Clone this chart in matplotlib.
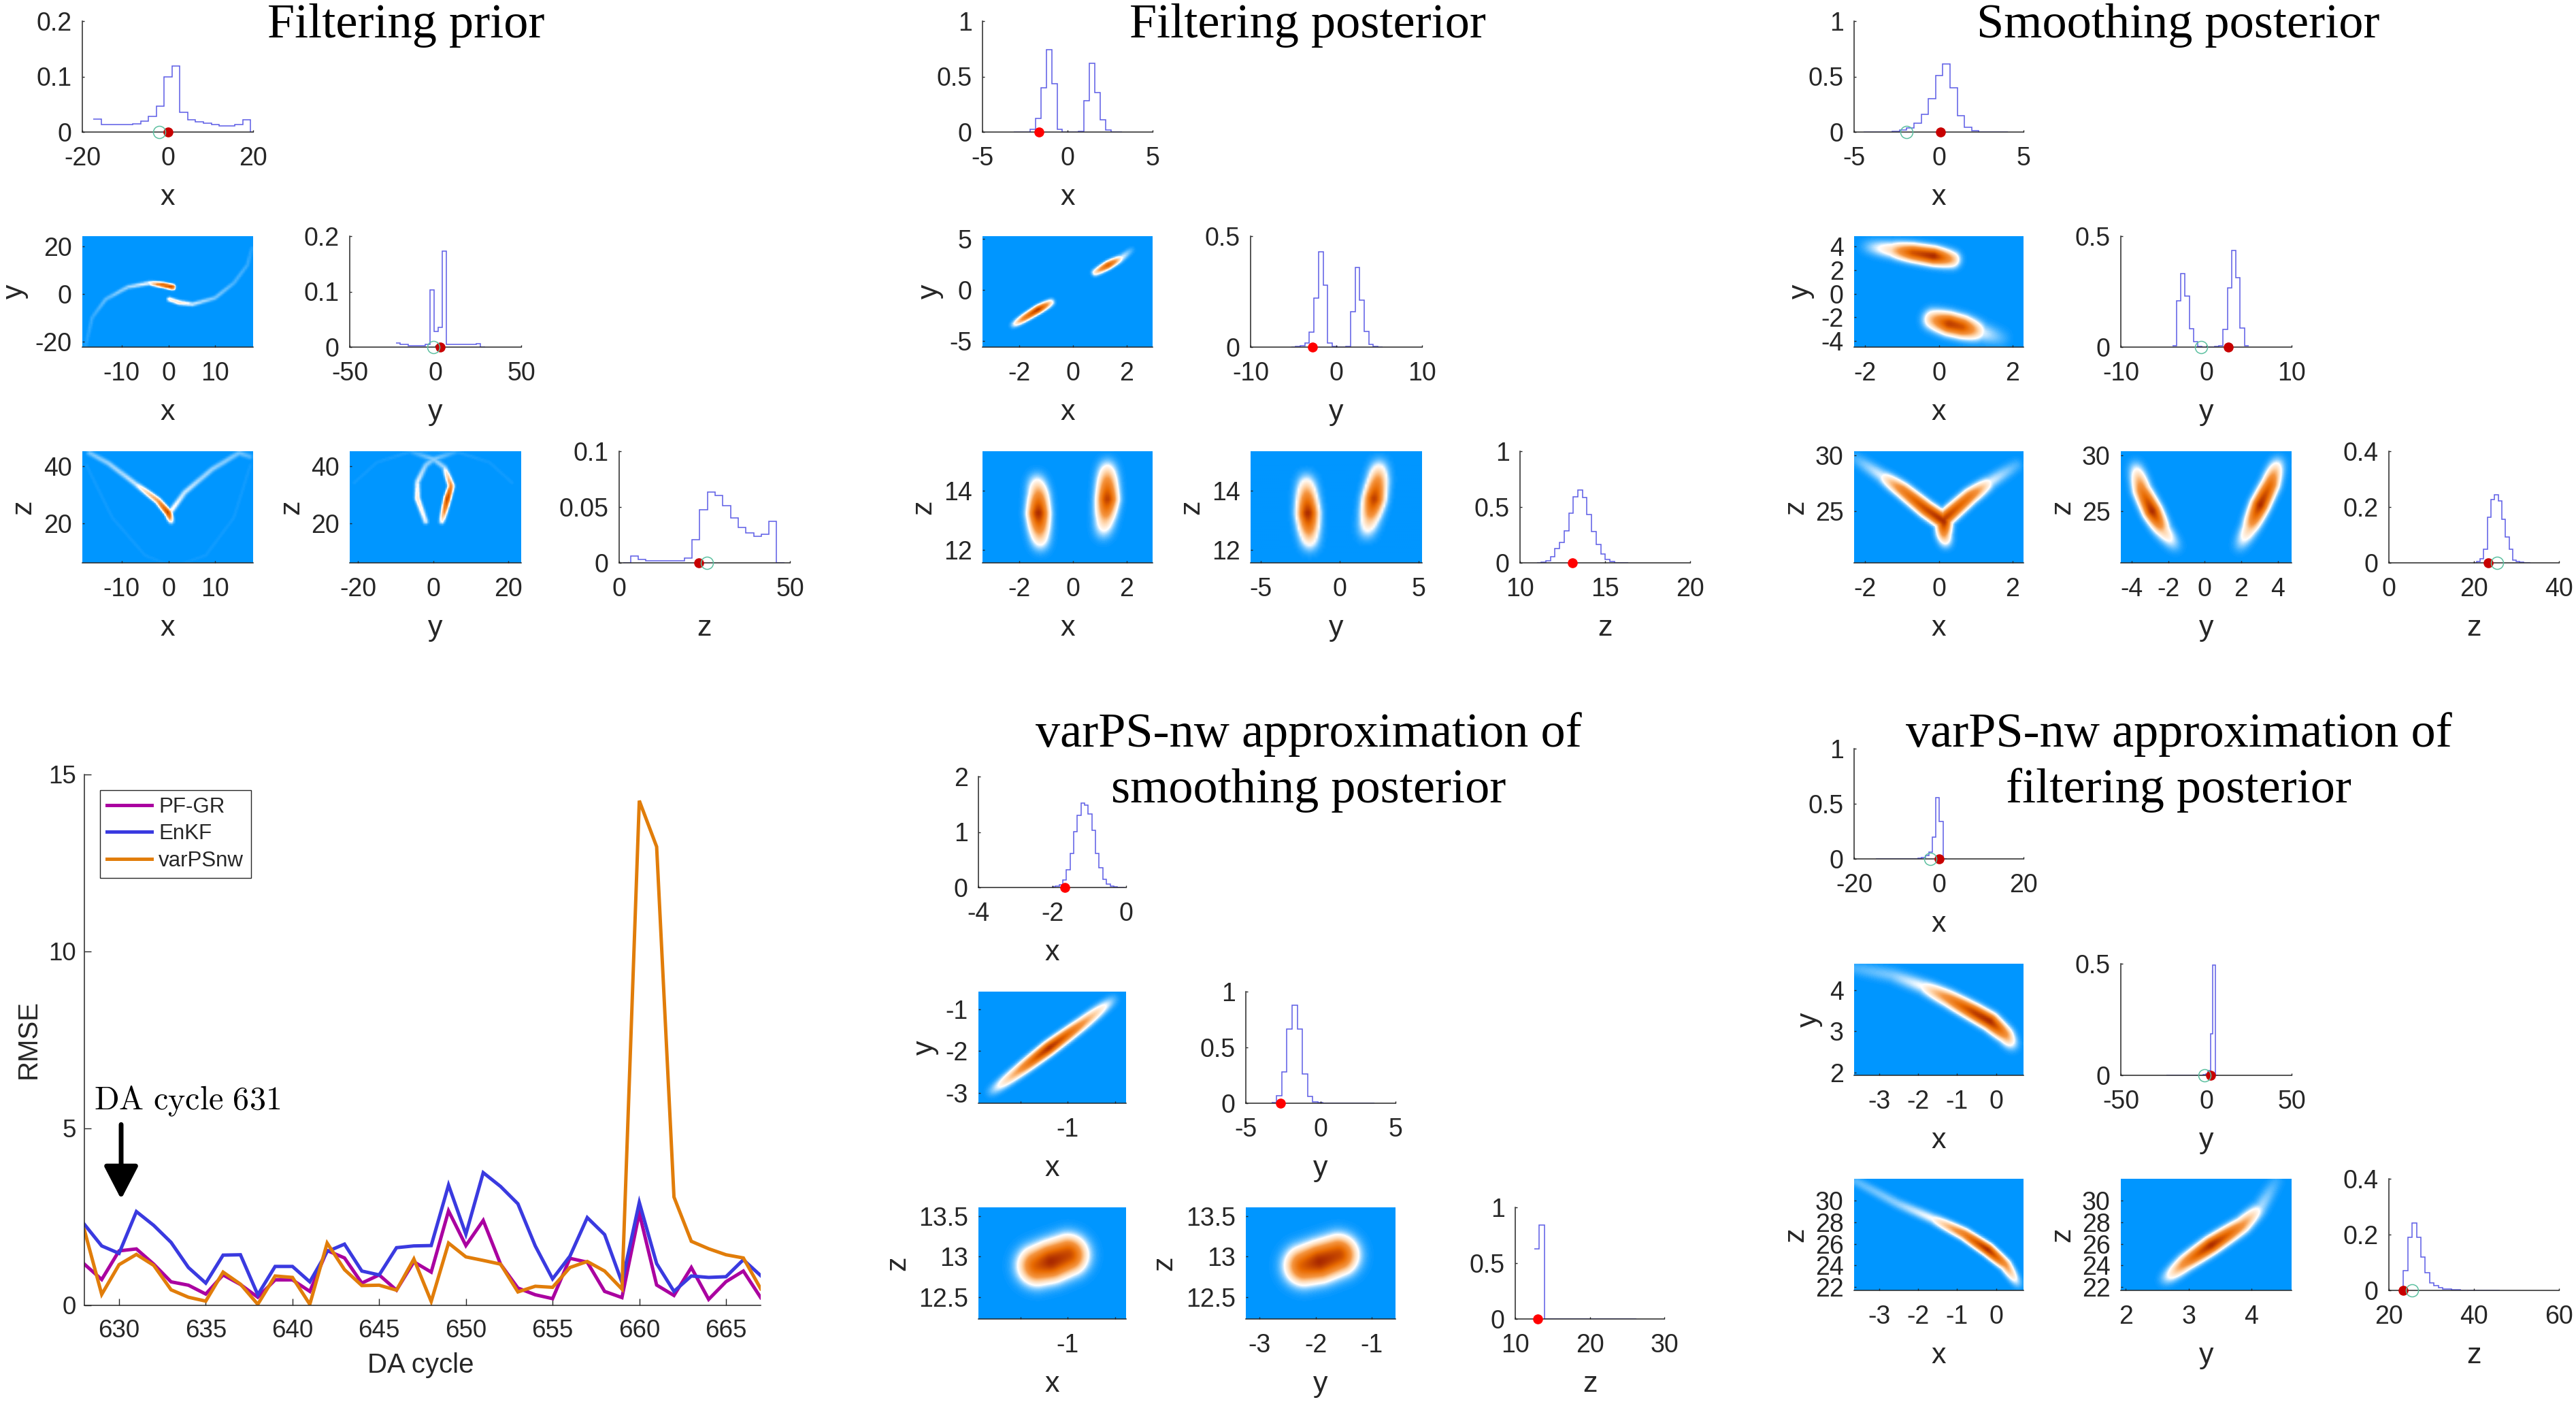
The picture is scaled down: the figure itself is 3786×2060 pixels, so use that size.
import numpy as np
import matplotlib
matplotlib.use("Agg")
import matplotlib.pyplot as plt
from matplotlib.colors import LinearSegmentedColormap

# ---------- RMSE series ----------
cycles = list(range(628, 668))
pf_gr = [1.155,.72,1.53,1.585,1.155,.655,.56,.31,.85,.58,.22,.71,.71,.385,1.54,1.33,.62,.85,.42,1.22,.93,2.66,1.68,2.39,1.155,.48,.29,.18,1.32,1.21,.385,.21,2.6,.565,.27,1.06,.16,.66,.96,.21]
enkf = [2.28,1.67,1.46,2.64,2.25,1.77,1.06,.62,1.41,1.42,.29,1.09,1.09,.655,1.51,1.72,.96,.85,1.62,1.67,1.68,3.39,2.0,3.74,3.35,2.86,1.67,.74,1.38,2.47,1.99,.64,2.9,1.17,.385,.82,.78,.8,1.28,.83]
varpsnw = [2.12,.3,1.14,1.43,1.12,.43,.22,.11,.93,.59,.02,.82,.78,.02,1.75,1.0,.55,.56,.42,1.3,.1,1.75,1.36,1.26,1.155,.37,.53,.5,1.06,1.23,.96,.45,14.25,12.95,3.05,1.8,1.59,1.42,1.33,.46]
rmse_labels = ["PF-GR", "EnKF", "varPSnw"]

# ---------- histograms: first edge, bin width, heights ----------
prior_hx = (-17.4, 1.84, [.023,.013,.013,.013,.014,.015,.02,.028,.047,.1,.119,.036,.022,.018,.016,.0135,.011,.011,.0135,.022,0])
prior_hy = (-23.1, 2.47, [.0075,.0045,.0045,.003,.003,.003,.003,.005,.103,.028,.036,.173,.005,.005,.005,.005,.005,.005,.005,.0065,0])
prior_hz = (1.1, 2.25, [0,.006,.003,.002,.002,.002,.002,.002,.0045,.021,.0475,.0635,.0605,.051,.04,.032,.027,.024,.0255,.037,0])
filt_hx = (-3.15, .3165, [.001,.002,.003,.026,.123,.4,.74,.437,.022,.002,.001,.001,.008,.28,.62,.355,.112,.019,.002,.001])
filt_hy = (-5.27, .533, [.001,.002,.0075,.0185,.0685,.22,.43,.28,.0185,.002,.001,.001,.002,.16,.36,.213,.07,.013,.003,.001])
filt_hz = (10.98, .269, [.003,.008,.019,.056,.13,.18,.286,.446,.59,.65,.584,.435,.28,.167,.08,.03,.01,.003,.002,.001])
smooth_hx = (-4.45, .426, [.001,.001,.001,.001,.008,.019,.034,.082,.16,.3,.51,.615,.4,.15,.045,.015,.003,.001,.001,.001])
smooth_hy = (-3.98, .497, [.007,.21,.33,.23,.083,.026,.004,.001,.001,.001,.002,.006,.08,.267,.435,.313,.087,.007])
smooth_hz = (19.76, .848, [.001,.004,.015,.048,.164,.226,.245,.223,.156,.092,.048,.01,.004,.002,.001,.001])
vs_hx = (-2.01, .0986, [.01,.024,.055,.134,.316,.61,1.01,1.304,1.525,1.486,1.328,1.03,.61,.356,.15,.063,.024,.008,.003,.001])
vs_hy = (-3.28, .343, [.005,.07,.28,.665,.88,.665,.26,.063,.015,.008,.002,.001,.001,.001,.001,.001,.001,.001,.001,.001])
vs_hz = (12.53, .688, [.627,.843,.001,.001,.001,.001,.001,.001,.001,.001,.001,.001,.001,.001,.001,.001,.001,.001,.001,.001])
vf_hx = (-14.9, .836, [.001,.001,.001,.001,.001,.001,.001,.001,.001,.001,.001,.001,.004,.012,.028,.06,.2,.555,.34,.001])
vf_hy = (-23.5, 1.446, [.001,.001,.001,.001,.001,.001,.001,.001,.001,.001,.001,.001,.001,.001,.001,.002,.005,.02,.185,.494,0])
vf_hz = (22.36, 1.03, [0,.071,.19,.242,.19,.12,.063,.027,.016,.0095,.006,.005,.003,.002,.001,.001,.001,.001,.001,.001,.001,.001,.001])

# ---------- density ridges: (xs, ys, relative density) ----------
prior_xy = [([-17.7,-16.3,-13.4,-8.7,-4.1,-1.2,.9],[-22,-9.9,-2.2,2.9,4.6,3.8,2.9],[.02,.035,.06,.1,.16,.8,.95]),
            ([.2,2.3,5.2,9.9,14,16.9,17.8],[-2.2,-3.6,-4.3,-1.7,4.6,12.3,19.2],[.22,.25,.13,.08,.05,.035,.02])]
prior_xz = [([-16.9,-12.8,-7,-2.3,0,.6],[44.3,40.7,33.6,27.9,23.6,20.7],[.07,.09,.12,.45,.95,.14]),
            ([.6,3.5,9.3,15.1,17.4],[24.3,30.7,38.6,44.3,43],[.17,.12,.09,.07,.05]),
            ([-17.5,-12,-5,1,8,14,17.5],[40,22,9,5,9,22,40],[.012,.012,.012,.008,.012,.012,.012])]
prior_yz = [([-2,-4.2,-4.2,-2,.1,5.9],[20.7,28.6,34.3,40,42.1,44.6],[.14,.22,.14,.09,.08,.03]),
            ([2.3,3.8,4.8,3,.1,-5.6],[20.7,28.6,32.9,39.3,42.1,44.6],[.16,.95,.5,.1,.08,.03]),
            ([-21,-15,-6,6,15,21],[34,41,44.8,44.8,41,34],[.012,.012,.02,.02,.012,.012])]
filt_xy = [([-2.26,-1.78,-1.29,-.81],[-3.5,-2.7,-1.9,-1.2],[.03,.6,1,.2]),
           ([.83,1.31,1.8,2.18],[1.73,2.46,3.15,3.95],[.22,.8,.15,.03])]
filt_xz = [([-1.35,-1.28,-1.28,-1.24,-1.2],[14.42,13.86,13.23,12.6,12.11],[.04,.45,1,.4,.04]),
           ([1.28,1.28,1.28,1.2,1.12],[14.9,14.35,13.72,13.09,12.53],[.04,.45,.9,.35,.04])]
filt_yz = [([-2.12,-2.08,-2.02,-1.95,-1.89],[14.42,13.86,13.23,12.6,12.11],[.04,.45,1,.4,.04]),
           ([2.52,2.42,2.19,1.92,1.69],[14.9,14.35,13.72,13.09,12.53],[.04,.45,.9,.35,.04])]
smooth_xy = [([-1.95,-1.25,-.7,-.14,.35],[3.98,3.7,3.46,3.18,2.9],[.04,.25,.8,1,.35]),
             ([-.14,.28,.63,1.11,1.67],[-2.18,-2.53,-2.8,-3.22,-3.74],[.35,.9,.8,.14,.04])]
smooth_xz = [([-2.23,-1.53,-.98,-.35,.14,.14,.2],[29.6,28.1,26.84,25.18,24.08,22.98,22.06],[.04,.13,.55,.85,1,.45,.04]),
             ([.14,.84,1.39,2.09],[24.26,26.29,27.57,29.04],[.9,.6,.13,.04])]
smooth_yz = [([-3.8,-3.44,-2.87,-2.31,-1.6],[29.04,26.84,25,23.35,21.88],[.04,.55,1,.3,.04]),
             ([4.03,3.61,3.04,2.48,1.92],[29.41,27.39,25.55,23.53,21.88],[.04,.65,1,.3,.04])]
vs_xy = [([-1.81,-1.53,-1.2,-.85,-.52],[-2.98,-2.5,-1.93,-1.35,-.77],[.04,.4,1,.45,.04])]
vs_xz = [([-1.32,-1.18,-1.0],[12.89,12.94,13.02],[.75,1,.85])]
vs_yz = [([-2.2,-1.93,-1.6],[12.89,12.94,13.02],[.75,1,.85])]
vf_xy = [([-3.58,-2.66,-1.87,-1.21,-.55,-.16,.24,.43],[4.52,4.36,4.09,3.79,3.45,3.24,2.91,2.65],[.04,.07,.15,.5,.9,1,.45,.04])]
vf_xz = [([-3.58,-2.53,-1.61,-.82,-.22,.24,.57],[31.74,29.72,28.3,26.9,25.47,24.06,22.24],[.05,.08,.15,.55,1,.45,.04])]
vf_yz = [([2.62,2.95,3.36,3.85,4.14,4.39],[22.65,24.26,25.88,27.7,29.31,31.74],[.04,.5,1,.45,.1,.03])]

# ---------- truth (filled dot) and reference (open circle) values ----------
prior_truth, prior_ref = [.1, 2.85, 23.3], [-2.05, -1.0, 25.7]
filt_truth, filt_ref = [-1.69, -2.8, 13.09], None
smooth_truth, smooth_ref = [.1, 2.6, 23.3], [-1.9, -.6, 25.5]
vs_truth, vs_ref = [-1.66, -2.7, 13.0], None
vf_truth, vf_ref = [.05, 2.6, 23.3], [-2.0, -.8, 25.5]

# ---------- axis limits and ticks ----------
prior_lims = dict(hx=(-20,20), hy=(-50,50), hz=(0,50), ix=(-18.4,18.1), iy=(-22.3,24.3), iyx=(-22.2,23.4), iz=(6.4,45.1))
prior_ticks = dict(hx=[-20,0,20], hy=[-50,0,50], hz=[0,50], ix=[-10,0,10], iy=[-20,0,20], iyx=[-20,0,20], iz=[20,40],
                   yhx=[0,.1,.2], yhy=[0,.1,.2], yhz=[0,.05,.1])
filt_lims = dict(hx=(-5,5), hy=(-10,10), hz=(10,20), ix=(-3.36,2.96), iy=(-5.6,5.3), iyx=(-5.66,5.23), iz=(11.55,15.34))
filt_ticks = dict(hx=[-5,0,5], hy=[-10,0,10], hz=[10,15,20], ix=[-2,0,2], iy=[-5,0,5], iyx=[-5,0,5], iz=[12,14],
                  yhx=[0,.5,1], yhy=[0,.5], yhz=[0,.5,1])
smooth_lims = dict(hx=(-5,5), hy=(-10,10), hz=(0,40), ix=(-2.3,2.3), iy=(-4.5,4.86), iyx=(-4.59,4.76), iz=(20.4,30.37))
smooth_ticks = dict(hx=[-5,0,5], hy=[-10,0,10], hz=[0,20,40], ix=[-2,0,2], iy=[-4,-2,0,2,4], iyx=[-4,-2,0,2,4], iz=[25,30],
                    yhx=[0,.5,1], yhy=[0,.5], yhz=[0,.2,.4])
vs_lims = dict(hx=(-4,0), hy=(-5,5), hz=(10,30), ix=(-1.945,-.385), iy=(-3.25,-.58), iyx=(-3.24,-.58), iz=(12.23,13.61))
vs_ticks = dict(hx=[-4,-2,0], hy=[-5,0,5], hz=[10,20,30], ix=[-1.5,-1,-.5], iy=[-3,-2,-1], iyx=[-3,-2,-1], iz=[12.5,13,13.5],
                yhx=[0,1,2], yhy=[0,.5,1], yhz=[0,.5,1], hide=[-1.5,-.5])
vf_lims = dict(hx=(-20,20), hy=(-50,50), hz=(20,60), ix=(-3.64,.70), iy=(1.93,4.64), iyx=(1.92,4.64), iz=(21.7,32.0))
vf_ticks = dict(hx=[-20,0,20], hy=[-50,0,50], hz=[20,40,60], ix=[-3,-2,-1,0], iy=[2,3,4], iyx=[2,3,4], iz=[22,24,26,28,30],
                yhx=[0,.5,1], yhy=[0,.5], yhz=[0,.2,.4])
prior_yl = dict(hist=[.2,.2,.1])
filt_yl = dict(hist=[1,.5,1])
smooth_yl = dict(hist=[1,.5,.4])
vs_yl = dict(hist=[2,1,1])
vf_yl = dict(hist=[1,.5,.4])

# ---------- layout (pixels) ----------
W, H = 3786, 2060
plt.rcParams['font.family'] = ['Liberation Sans', 'DejaVu Sans']
plt.rcParams['axes.unicode_minus'] = False
plt.rcParams['mathtext.fontset'] = 'cm'
INK = '#262626'
TICK_FS, LABEL_FS = 27, 31
HIST_C = '#5c5ce6'
REF_C = '#5cc0a0'
cmap = LinearSegmentedColormap.from_list('dens', [(0,'#0096ff'),(.14,'#ffffff'),(.26,'#ffd8b0'),(.42,'#f59540'),
                                                 (.68,'#e86a00'),(1,'#a82800')])
fig = plt.figure(figsize=(W/100, H/100), dpi=100)

def axpx(l, t, r, b):
    return fig.add_axes([l/W, 1-b/H, (r-l)/W, (b-t)/H])

def fmt(v):
    return f'{v:g}'

def style(ax, ticklen=2.2):
    for s in ('top','right'):
        ax.spines[s].set_visible(False)
    for s in ('left','bottom'):
        ax.spines[s].set_color(INK); ax.spines[s].set_linewidth(1.1)
    ax.tick_params(direction='in', length=ticklen, width=1.0, color=INK, labelcolor=INK,
                   labelsize=TICK_FS)
    ax.tick_params(axis='x', pad=15)
    ax.tick_params(axis='y', pad=11)

def xlab(ax, text, h, off=107):
    ax.text(.5, -off/h, text, transform=ax.transAxes, ha='center', va='baseline',
            fontsize=LABEL_FS, color=INK, clip_on=False)

def ylab(ax, text, w, off):
    ax.text(-off/w, .5, text, transform=ax.transAxes, ha='center', va='center', rotation=90,
            fontsize=LABEL_FS, color=INK, clip_on=False)

def hist_panel(box, data, xl, xt, ytop, yt, truth, ref, dark, name):
    l, t, r, b = box
    ax = axpx(l, t, r, b)
    style(ax)
    start, width, vals = data
    ax.stairs(vals, start + width*np.arange(len(vals)+1), color=HIST_C, lw=1.1, baseline=None)
    ax.set_xlim(*xl); ax.set_ylim(0, ytop)
    ax.set_xticks(xt, [fmt(v) for v in xt]); ax.set_yticks(yt, [fmt(v) for v in yt])
    ax.plot([truth],[0], 'o', ms=10.5, mec='none', mfc='#c80000' if dark else '#ff0000', clip_on=False, zorder=5)
    if ref is not None:
        ax.plot([ref],[0], 'o', ms=13, mfc='none', mec=REF_C, mew=1.1, clip_on=False, zorder=6)
    xlab(ax, name, b-t)
    return ax

def density(ridges, sigmas, xl, yl, wpx, hpx):
    nx, ny = int(wpx/3), int(hpx/3)
    gx = (np.arange(nx)+.5)/nx*wpx
    gy = (np.arange(ny)+.5)/ny*hpx
    GX, GY = np.meshgrid(gx, gy)
    field = np.zeros_like(GX)
    for (xs, ys, am), sig in zip(ridges, sigmas):
        px = (np.array(xs)-xl[0])/(xl[1]-xl[0])*wpx
        py = (np.array(ys)-yl[0])/(yl[1]-yl[0])*hpx
        s = np.r_[0, np.cumsum(np.hypot(np.diff(px), np.diff(py)))]
        u = np.linspace(0, s[-1], max(int(s[-1]/2), 5))
        qx, qy, qa = np.interp(u, s, px), np.interp(u, s, py), np.interp(u, s, am)
        for a, b_, c in zip(qx, qy, qa):
            field = np.maximum(field, c*np.exp(-((GX-a)**2+(GY-b_)**2)/(2*sig**2)))
    return field

def image_panel(box, ridges, sigmas, xl, yl, xt, yt, name_x, name_y, yoff, hide=()):
    l, t, r, b = box
    ax = axpx(l, t, r, b)
    style(ax)
    f = density(ridges, sigmas, xl, yl, r-l, b-t)
    ax.imshow(f, origin='lower', extent=(xl[0], xl[1], yl[0], yl[1]), aspect='auto', cmap=cmap,
              vmin=0, vmax=1, interpolation='bilinear')
    ax.set_xlim(*xl); ax.set_ylim(*yl)
    ax.set_xticks(xt, ['' if v in hide else fmt(v) for v in xt]); ax.set_yticks(yt, [fmt(v) for v in yt])
    ax.spines['left'].set_visible(False)
    xlab(ax, name_x, b-t); ylab(ax, name_y, r-l, yoff)

def corner(cols, rows, hx, hy, hz, xy, xz, yz, sig, lims, ticks, ylim, truth, ref, dark, yoffs):
    c = cols; r_ = rows
    hist_panel((c[0][0], r_[0][0], c[0][1], r_[0][1]), hx, lims['hx'], ticks['hx'], ylim['hist'][0], ticks['yhx'], truth[0], None if ref is None else ref[0], dark, 'x')
    hist_panel((c[1][0], r_[1][0], c[1][1], r_[1][1]), hy, lims['hy'], ticks['hy'], ylim['hist'][1], ticks['yhy'], truth[1], None if ref is None else ref[1], dark, 'y')
    hist_panel((c[2][0], r_[2][0], c[2][1], r_[2][1]), hz, lims['hz'], ticks['hz'], ylim['hist'][2], ticks['yhz'], truth[2], None if ref is None else ref[2], dark, 'z')
    hide = ticks.get('hide', ())
    image_panel((c[0][0], r_[1][0], c[0][1], r_[1][1]), xy, sig[0], lims['ix'], lims['iy'], ticks['ix'], ticks['iy'], 'x', 'y', yoffs[0], hide)
    image_panel((c[0][0], r_[2][0], c[0][1], r_[2][1]), xz, sig[1], lims['ix'], lims['iz'], ticks['ix'], ticks['iz'], 'x', 'z', yoffs[1], hide)
    image_panel((c[1][0], r_[2][0], c[1][1], r_[2][1]), yz, sig[2], lims['iyx'], lims['iz'], ticks['iyx'], ticks['iz'], 'y', 'z', yoffs[2])

rows_top = [(31,194),(347,510),(663,827)]
corner([(121,372),(514,766),(910,1161)], rows_top, prior_hx, prior_hy, prior_hz, prior_xy, prior_xz, prior_yz,
       [[2,2],[2.6,2.6,2],[2.6,2.6,2]], prior_lims, prior_ticks, prior_yl, prior_truth, prior_ref, True, (99,87,86))
corner([(1444,1694),(1838,2090),(2234,2484)], rows_top, filt_hx, filt_hy, filt_hz, filt_xy, filt_xz, filt_yz,
       [[3.2,3.2],[9,9],[9,9]], filt_lims, filt_ticks, filt_yl, filt_truth, filt_ref, False, (77,87,87))
corner([(2725,2974),(3117,3368),(3511,3761)], rows_top, smooth_hx, smooth_hy, smooth_hz, smooth_xy, smooth_xz, smooth_yz,
       [[7.5,9],[6.5,6.5],[7.5,7.5]], smooth_lims, smooth_ticks, smooth_yl, smooth_truth, smooth_ref, True, (78,86,86))
corner([(1438,1655),(1831,2051),(2227,2446)], [(1141,1304),(1457,1621),(1774,1938)], vs_hx, vs_hy, vs_hz, vs_xy, vs_xz, vs_yz,
       [[5.5],[16],[16]], vs_lims, vs_ticks, vs_yl, vs_truth, vs_ref, False, (78,119,120))
corner([(2725,2974),(3117,3368),(3511,3761)], [(1100,1262),(1416,1580),(1732,1896)], vf_hx, vf_hy, vf_hz, vf_xy, vf_xz, vf_yz,
       [[7],[5],[7]], vf_lims, vf_ticks, vf_yl, vf_truth, vf_ref, True, (66,86,86))

# titles
TITLE_FS = 52
for text, cx, base in [("Filtering prior", 597, 55), ("Filtering posterior", 1922, 55), ("Smoothing posterior", 3201, 55),
                       ("varPS-nw approximation of", 1923, 1097), ("smoothing posterior", 1923, 1179),
                       ("varPS-nw approximation of", 3202, 1097), ("filtering posterior", 3202, 1179)]:
    fig.text(cx/W, 1-base/H, text, ha='center', va='baseline', fontsize=TITLE_FS, family='Liberation Serif', color='black')

# RMSE panel
ax = axpx(124, 1137.5, 1118, 1917.5)
style(ax, ticklen=7)
for series, col, lab in zip([pf_gr, enkf, varpsnw], ['#aa00a0', '#3a3ae0', '#e17d0a'], rmse_labels):
    ax.plot(cycles, series, color=col, lw=3.6, label=lab, solid_joinstyle='miter')
ax.set_xlim(628, 667); ax.set_ylim(0, 15)
ax.set_xticks(range(630, 670, 5)); ax.set_yticks([0, 5, 10, 15])
ax.tick_params(labelsize=26.5)
ax.tick_params(axis='y', pad=9)
ax.legend(loc='upper left', bbox_to_anchor=((147-124)/994, (1917.5-1160.6)/780), fontsize=22.5, handlelength=2.1,
          handletextpad=.33, labelspacing=.3, borderpad=.33, borderaxespad=0, fancybox=False, edgecolor=INK,
          framealpha=1, labelcolor=INK)
fig.text(618/W, 1-2017/H, "DA cycle", ha='center', va='baseline', fontsize=29, color=INK)
fig.text(42/W, 1-1527/H, "RMSE", ha='center', va='center', rotation=90, fontsize=29, color=INK)
fig.text(138/W, 1-1629/H, r'$\mathrm{DA\ cycle\ 631}$', ha='left', va='baseline', fontsize=34.7, color='black')
ax.annotate('', xy=(630.12, 2.99), xytext=(630.12, 5.1),
            arrowprops=dict(arrowstyle='-|>,head_width=.7,head_length=1.35', color='black', lw=5, shrinkA=0, shrinkB=0, mutation_scale=22))

fig.savefig('out.png', dpi=100)
